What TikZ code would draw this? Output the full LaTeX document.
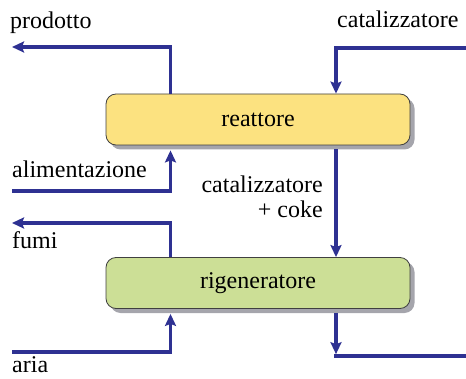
\documentclass[tikz,border=0pt]{standalone}
\usepackage{fontspec}
\setmainfont{Liberation Serif}
\usepackage{tikz}
\usepackage{xcolor}
\usetikzlibrary{arrows.meta,calc,shadows}
\definecolor{flowblue}{RGB}{46,49,146}
\definecolor{reactyellow}{RGB}{252,226,128}
\definecolor{regengreen}{RGB}{204,223,150}
\definecolor{shadowgray}{RGB}{165,165,172}

\begin{document}
\begin{tikzpicture}[x=1pt, y=1pt, >={Stealth[length=12pt,width=11pt,inset=2pt]},
    font=\fontsize{24}{25}\selectfont,
    unit/.style={draw=black!75, line width=0.8pt, rounded corners=10pt,
        minimum width=304pt, minimum height=51pt,
        drop shadow={shadow xshift=4.5pt, shadow yshift=-4.5pt, fill=shadowgray, opacity=1}},
    flow/.style={flowblue, line width=3.6pt},
    lab/.style={inner sep=0pt}]
    \useasboundingbox (0,0) rectangle (466,378);

    % Units
    \node[unit, fill=reactyellow] (reattore) at (258,258.5) {reattore};
    \node[unit, fill=regengreen] (rigen) at (258,95) {rigeneratore};

    % Columns and free ends
    \coordinate (colL) at (170.5,0);
    \coordinate (colR) at (336,0);
    \coordinate (prod) at (12,331);
    \coordinate (catin) at (466,330);
    \coordinate (alim) at (12,187);
    \coordinate (fumout) at (12,155);
    \coordinate (ariain) at (12,26);
    \coordinate (catout) at (466,22);

    % Reactor streams
    \draw[flow, ->] (reattore.north -| colL) |- (prod);
    \draw[flow, ->] (catin) -| (reattore.north -| colR);
    \draw[flow, ->, shorten >=5pt] (alim) -| (reattore.south -| colL);
    \draw[flow, ->, shorten <=4pt] (reattore.south -| colR) -- (rigen.north -| colR);

    % Regenerator streams
    \draw[flow, ->] (rigen.north -| colL) |- (fumout);
    \draw[flow, ->, shorten >=5pt] (ariain) -| (rigen.south -| colL);
    \draw[flow, ->, shorten <=4pt, shorten >=1.8pt] (rigen.south -| colR) -- (catout -| colR);
    \draw[flow] ([xshift=-1.8pt]catout -| colR) -- (catout);

    % Labels
    \node[lab, anchor=base west] (lprod) at (10,349) {prodotto};
    \node[lab, anchor=base west] (lcatin) at (337,350) {catalizzatore};
    \node[lab, anchor=base west] (lalim) at (12,200) {alimentazione};
    \node[lab, anchor=base east] (lcoke) at (323,185) {catalizzatore};
    \node[lab, anchor=base east] (lcoke2) at (323,160) {+ coke};
    \node[lab, anchor=base west] (lfumi) at (12,129) {fumi};
    \node[lab, anchor=base west] (laria) at (12,6) {aria};
\end{tikzpicture}
\end{document}
